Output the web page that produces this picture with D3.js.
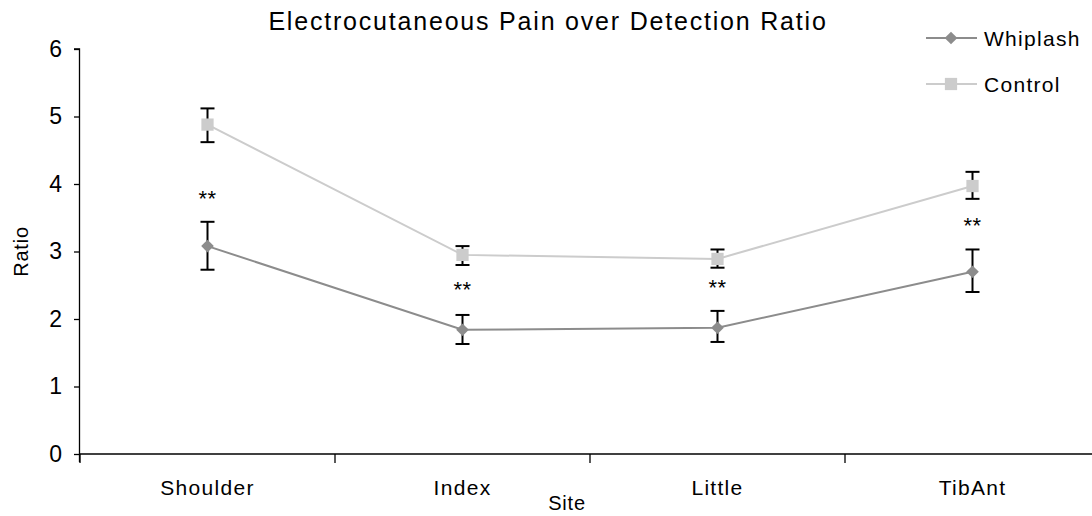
<!DOCTYPE html>
<html>
<head>
<meta charset="utf-8">
<script src="https://d3js.org/d3.v7.min.js"></script>
<style>
  body { margin: 0; background: #fff; }
  svg { display: block; font-family: "Liberation Sans", Arial, sans-serif; }
  .axis path, .axis line { stroke: #000; stroke-width: 1.3; }
  .axis text { font-size: 21px; fill: #000; }
</style>
</head>
<body>
<script>
// data
var sites = ["Shoulder", "Index", "Little", "TibAnt"];
var whiplash = [3.08, 1.84, 1.87, 2.70];
var whiplashHi = [3.44, 2.06, 2.12, 3.03];
var whiplashLo = [2.73, 1.63, 1.66, 2.40];
var control = [4.88, 2.95, 2.89, 3.97];
var controlHi = [5.12, 3.08, 3.03, 4.18];
var controlLo = [4.62, 2.80, 2.76, 3.78];
var starLevel = [3.86, 2.52, 2.55, 3.47];
var yTicks = [0, 1, 2, 3, 4, 5, 6];

var W = 1092, H = 516;
var margin = {top: 49, right: -8, bottom: 62, left: 80};

var svg = d3.select("body").append("svg")
    .attr("width", W)
    .attr("height", H);

var x = d3.scaleBand()
    .domain(sites)
    .range([margin.left, W - margin.right]);

var y = d3.scaleLinear()
    .domain([0, 6])
    .range([H - margin.bottom, margin.top]);

// x axis: ticks between categories
var xAxis = svg.append("g")
    .attr("class", "axis")
    .attr("transform", "translate(0," + y(0) + ")");
xAxis.append("line")
    .attr("x1", margin.left).attr("x2", W)
    .attr("y1", 0).attr("y2", 0);
xAxis.selectAll(".sep")
    .data(sites)
    .enter().append("line")
    .attr("class", "sep")
    .attr("x1", function(d){ return x(d); })
    .attr("x2", function(d){ return x(d); })
    .attr("y1", 0).attr("y2", 9);
xAxis.selectAll(".lbl")
    .data(sites)
    .enter().append("text")
    .attr("class", "lbl")
    .attr("x", function(d){ return x(d) + x.bandwidth() / 2; })
    .attr("y", 41)
    .attr("text-anchor", "middle")
    .style("letter-spacing", "1.3px")
    .text(function(d){ return d; });

// y axis
svg.append("g")
    .attr("class", "axis")
    .attr("transform", "translate(" + margin.left + ",0)")
    .call(d3.axisLeft(y).tickValues(yTicks).tickSize(6).tickPadding(12).tickFormat(d3.format("d")))
    .call(function(g){ g.select(".domain").attr("d", "M-0.5," + (y(0) + 8) + "V" + y(6) + "H-6"); })
    .call(function(g){ g.selectAll(".tick text").style("font-size", "23px"); });

// titles
svg.append("text")
    .attr("x", 548).attr("y", 30)
    .attr("text-anchor", "middle")
    .style("font-size", "25px")
    .style("letter-spacing", "1.8px")
    .text("Electrocutaneous Pain over Detection Ratio");

svg.append("text")
    .attr("transform", "translate(28," + y(3) + ")rotate(-90)")
    .attr("text-anchor", "middle")
    .style("font-size", "20px")
    .style("letter-spacing", "0.8px")
    .text("Ratio");

svg.append("text")
    .attr("x", 567).attr("y", 510)
    .attr("text-anchor", "middle")
    .style("font-size", "20px")
    .style("letter-spacing", "0.8px")
    .text("Site");

var cx = function(i){ return x(sites[i]) + x.bandwidth() / 2; };

// diamond drawn as a square turned 45 degrees
var series = [
  {name: "Whiplash", vals: whiplash, hi: whiplashHi, lo: whiplashLo, color: "#8c8c8c", size: 80, rot: 45},
  {name: "Control", vals: control, hi: controlHi, lo: controlLo, color: "#cccccc", size: 150, rot: 0}
];

var line = d3.line()
    .x(function(d, i){ return cx(i); })
    .y(function(d){ return y(d); });

series.forEach(function(s){
  svg.append("path")
      .datum(s.vals)
      .attr("fill", "none")
      .attr("stroke", s.color)
      .attr("stroke-width", 2)
      .attr("d", line);
});

// error bars
series.forEach(function(s){
  var g = svg.append("g").attr("stroke", "#000").attr("stroke-width", 2);
  s.vals.forEach(function(v, i){
    var xc = cx(i);
    g.append("line").attr("x1", xc).attr("x2", xc).attr("y1", y(s.hi[i])).attr("y2", y(s.lo[i]));
    g.append("line").attr("x1", xc - 7).attr("x2", xc + 7).attr("y1", y(s.hi[i])).attr("y2", y(s.hi[i]));
    g.append("line").attr("x1", xc - 7).attr("x2", xc + 7).attr("y1", y(s.lo[i])).attr("y2", y(s.lo[i]));
  });
});

// markers
series.forEach(function(s){
  svg.selectAll(null)
      .data(s.vals)
      .enter().append("path")
      .attr("transform", function(d, i){ return "translate(" + cx(i) + "," + y(d) + ")rotate(" + s.rot + ")"; })
      .attr("d", d3.symbol().type(d3.symbolSquare).size(s.size))
      .attr("fill", s.color);
});

// significance stars
svg.selectAll(".star")
    .data(starLevel)
    .enter().append("text")
    .attr("class", "star")
    .attr("x", function(d, i){ return cx(i); })
    .attr("y", function(d){ return y(d) + 13; })
    .attr("text-anchor", "middle")
    .style("font-size", "22px")
    .style("letter-spacing", "0.5px")
    .text("**");

// legend
var legend = svg.append("g");
series.forEach(function(s, i){
  var ly = 38 + i * 46;
  legend.append("line")
      .attr("x1", 926).attr("x2", 977)
      .attr("y1", ly).attr("y2", ly)
      .attr("stroke", s.color).attr("stroke-width", 2);
  legend.append("path")
      .attr("transform", "translate(951," + ly + ")rotate(" + s.rot + ")")
      .attr("d", d3.symbol().type(d3.symbolSquare).size(s.size))
      .attr("fill", s.color);
  legend.append("text")
      .attr("x", 984).attr("y", ly + 8)
      .style("font-size", "21px")
      .style("letter-spacing", "1.3px")
      .text(s.name);
});
</script>
</body>
</html>
